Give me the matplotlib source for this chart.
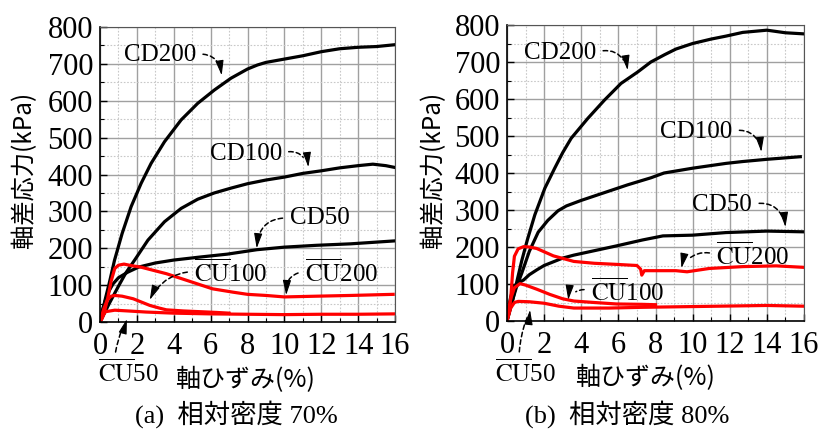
import matplotlib
matplotlib.use("Agg")
import matplotlib.pyplot as plt
from matplotlib.ticker import MultipleLocator

plt.rcParams['mathtext.fontset'] = 'stix'
SERIF = ['Liberation Serif', 'DejaVu Serif']
CJK = ['Liberation Serif', 'Noto Sans CJK JP']

# ---------------- Data: (a) relative density 70% ----------------
a_cd200_x = [0, 0.3, 0.5, 0.79, 1.2, 1.69, 2.23, 2.77, 3.5, 4.4, 5.3, 6.2, 7.1, 8, 8.54, 9, 10, 11, 12, 13, 14, 15, 16]
a_cd200_y = [0, 65, 105, 168, 240, 313, 376, 430, 489, 548, 593, 629, 661, 686, 697, 704, 713, 722, 733, 741, 745, 747, 752]
a_cd100_x = [0, 0.5, 1.0, 1.4, 1.88, 2.6, 3.5, 4.4, 5.3, 6.2, 7.1, 8, 9, 10, 11, 12, 13, 14, 14.8, 15.5, 16]
a_cd100_y = [0, 50, 97, 133, 168, 222, 272, 308, 333, 350, 363, 375, 385, 393, 403, 410, 418, 424, 428, 424, 419]
a_cd50_x = [0, 0.15, 0.3, 0.5, 0.7, 1.0, 1.5, 2.1, 3, 4, 5.4, 6.9, 8.5, 10, 11.75, 13.6, 16]
a_cd50_y = [0, 35, 60, 85, 103, 120, 135, 149, 160, 168, 176, 184, 196, 203, 208, 212, 220]
a_cu200_x = [0, 0.1, 0.2, 0.4, 0.6, 0.8, 1.0, 1.3, 1.8, 2.2, 3.6, 4.7, 6.1, 7.2, 8, 9, 10, 11.75, 13.6, 15.9]
a_cu200_y = [0, 8, 20, 60, 110, 145, 154, 157, 152, 149, 131, 113, 90, 81, 75, 72, 68, 70, 72, 75]
a_cu100_x = [0, 0.2, 0.4, 0.6, 0.8, 1.2, 1.8, 2.3, 2.7, 3.2, 3.6, 4.5, 5.4, 6.3, 7.0]
a_cu100_y = [0, 35, 60, 70, 72, 70, 63, 53, 45, 38, 33, 30, 28, 26, 24]
a_cu50_x = [0, 0.15, 0.3, 0.8, 1.5, 2.5, 4, 6, 8, 10, 12, 14, 16]
a_cu50_y = [0, 18, 28, 32, 30, 27, 24, 22, 21, 20, 21, 21, 22]

# ---------------- Data: (b) relative density 80% ----------------
b_cd200_x = [0, 0.3, 0.5, 0.79, 1.1, 1.5, 2.04, 2.57, 3.0, 3.46, 4.36, 5.25, 6.14, 7.04, 7.75, 8.5, 9.1, 10, 11, 11.8, 12.7, 14, 15, 16]
b_cd200_y = [0, 55, 100, 162, 220, 287, 359, 413, 455, 494, 548, 597, 642, 673, 700, 720, 735, 750, 762, 770, 780, 786, 779, 776]
b_cd100_x = [0, 0.2, 0.5, 0.8, 1.2, 1.68, 2.2, 2.75, 3.2, 4, 5.25, 6.5, 7.75, 8.46, 10, 11.8, 12.7, 14, 15.8]
b_cd100_y = [0, 40, 90, 130, 188, 240, 272, 298, 311, 326, 347, 368, 387, 400, 413, 426, 431, 437, 444]
b_cd50_x = [0, 0.1, 0.2, 0.36, 0.6, 0.9, 1.2, 1.6, 2, 2.5, 3, 3.6, 4.7, 5.9, 7.3, 8.4, 10, 11.8, 14, 16]
b_cd50_y = [0, 40, 65, 93, 103, 111, 125, 138, 150, 160, 170, 178, 190, 203, 219, 230, 232, 239, 243, 241]
b_cu200_x = [0, 0.2, 0.3, 0.4, 0.6, 0.9, 1.2, 1.6, 2.5, 3.6, 4.7, 5.9, 7.0, 7.2, 7.26, 7.4, 8, 9.1, 9.7, 10.9, 12.7, 14.5, 16]
b_cu200_y = [0, 60, 130, 175, 195, 201, 200, 196, 176, 161, 156, 153, 150, 140, 124, 136, 136, 136, 133, 142, 147, 149, 145]
b_cu100_x = [0, 0.2, 0.4, 0.7, 1.0, 1.6, 2.3, 3, 3.6, 4.7, 5.9, 7.3, 8]
b_cu100_y = [0, 60, 90, 101, 97, 86, 72, 60, 54, 50, 46, 45, 44]
b_cu50_x = [0, 0.2, 0.4, 0.6, 1.2, 2, 2.8, 3.6, 5.5, 7.3, 10, 12.7, 14, 16]
b_cu50_y = [0, 35, 50, 53, 52, 48, 40, 35, 35, 37, 39, 41, 42, 40]

x_ticks = [0, 2, 4, 6, 8, 10, 12, 14, 16]
y_ticks = [0, 100, 200, 300, 400, 500, 600, 700, 800]
CU = r'$\overline{\mathrm{CU}}$'

fig = plt.figure(figsize=(8.21, 4.30), dpi=100)
axA = fig.add_axes([100/821, 1-322/430, 295/821, 295/430])
axB = fig.add_axes([507/821, 1-321/430, 297/821, 296/430])


def style(ax):
    ax.set_xlim(0, 16)
    ax.set_ylim(0, 800)
    ax.set_xticks(x_ticks)
    ax.set_yticks(y_ticks)
    ax.xaxis.set_minor_locator(MultipleLocator(1))
    ax.yaxis.set_minor_locator(MultipleLocator(50))
    ax.grid(which='major', color='#a0a0a0', lw=1.0, ls='-')
    ax.grid(which='minor', color='#c8c8c8', lw=0.8, ls=(0, (1.5, 1.5)))
    ax.set_axisbelow(True)
    ax.tick_params(which='both', direction='in', top=False, right=False)
    ax.tick_params(which='major', length=5, width=1)
    ax.tick_params(axis='y', which='major', pad=5)
    ax.tick_params(axis='x', which='major', pad=7)
    ax.tick_params(which='minor', length=3, width=0.8)
    for lab in ax.get_xticklabels() + ax.get_yticklabels():
        lab.set_fontfamily(SERIF)
        lab.set_fontsize(22)
    for s in ['top', 'right']:
        ax.spines[s].set_color('#555555')
    for s in ['left', 'bottom']:
        ax.spines[s].set_color('black')
        ax.spines[s].set_linewidth(1.2)


def ann(ax, text, xytext, xy, rad, relpos, hdir):
    ax.annotate(text, xy=xy, xytext=xytext, ha='center', va='center',
                fontsize=18, family=SERIF, annotation_clip=False,
                arrowprops=dict(arrowstyle='-', linestyle=(0, (3, 2)), lw=1.1,
                                color='k', connectionstyle=f'arc3,rad={rad}',
                                relpos=relpos, shrinkA=3, shrinkB=8))
    ax.annotate('', xy=xy, xytext=hdir, textcoords='offset points',
                annotation_clip=False,
                arrowprops=dict(arrowstyle='-|>,head_length=0.9,head_width=0.25',
                                color='k', lw=0.8, shrinkA=0, shrinkB=0))


lwk = 2.3
lwr = 2.3
for ax in (axA, axB):
    style(ax)

axA.plot(a_cd200_x, a_cd200_y, color='black', lw=lwk)
axA.plot(a_cd100_x, a_cd100_y, color='black', lw=lwk)
axA.plot(a_cd50_x, a_cd50_y, color='black', lw=lwk)
axA.plot(a_cu200_x, a_cu200_y, color='#ff0000', lw=lwr)
axA.plot(a_cu100_x, a_cu100_y, color='#ff0000', lw=lwr)
axA.plot(a_cu50_x, a_cu50_y, color='#ff0000', lw=lwr)

axB.plot(b_cd200_x, b_cd200_y, color='black', lw=lwk)
axB.plot(b_cd100_x, b_cd100_y, color='black', lw=lwk)
axB.plot(b_cd50_x, b_cd50_y, color='black', lw=lwk)
axB.plot(b_cu200_x, b_cu200_y, color='#ff0000', lw=lwr)
axB.plot(b_cu100_x, b_cu100_y, color='#ff0000', lw=lwr)
axB.plot(b_cu50_x, b_cu50_y, color='#ff0000', lw=lwr)

# annotations (a)
ann(axA, 'CD200', (3.25, 723), (6.6, 669), -0.5, (1, 0.55), (-1.5, 10))
ann(axA, 'CD100', (7.9, 455), (11.3, 420), -0.5, (1, 0.55), (-1, 10))
ann(axA, 'CD50', (11.9, 282), (8.5, 200), 0.5, (0, 0.5), (1, 10))
ann(axA, CU + '100', (7.1, 133), (2.7, 60), 0.3, (0, 0.55), (4, 9))
ann(axA, CU + '200', (13.1, 133), (10.1, 73), 0.5, (0, 0.55), (0.5, 10))
ann(axA, CU + '50', (1.52, -138), (1.46, 8), -0.1, (0.28, 1), (-3, -10))

# annotations (b)
ann(axB, 'CD200', (2.86, 724), (6.5, 678), -0.5, (1, 0.55), (-1.5, 10))
ann(axB, 'CD100', (10.2, 511), (13.7, 457), -0.5, (1, 0.55), (-1, 10))
ann(axB, 'CD50', (11.6, 313), (15.0, 254), -0.5, (1, 0.55), (-1, 10))
ann(axB, CU + '200', (13.25, 176), (9.4, 143), 0.4, (0, 0.55), (2, 10))
ann(axB, CU + '100', (6.5, 78), (3.3, 57), 0.4, (0, 0.55), (1, 10))
ann(axB, CU + '50', (0.97, -140), (1.24, 30), -0.1, (0.4, 1), (-1, -10))

# axis labels
for cx in (24, 433):
    fig.text(cx/821, 1-170/430, '軸差応力(kPa)', rotation=90, ha='center', va='center',
             fontsize=17.5, family=['Noto Sans CJK JP'])
fig.text(245/821, 1-380/430, '軸ひずみ(%)', ha='center', va='center',
         fontsize=18, family=['Noto Sans CJK JP'])
fig.text(645/821, 1-378/430, '軸ひずみ(%)', ha='center', va='center',
         fontsize=18, family=['Noto Sans CJK JP'])

# captions
fig.text(236/821, 1-414/430, '(a)  相対密度 70%', ha='center', va='center',
         fontsize=19, family=CJK)
fig.text(627/821, 1-414/430, '(b)  相対密度 80%', ha='center', va='center',
         fontsize=19, family=CJK)

fig.savefig('out.png', dpi=100)
